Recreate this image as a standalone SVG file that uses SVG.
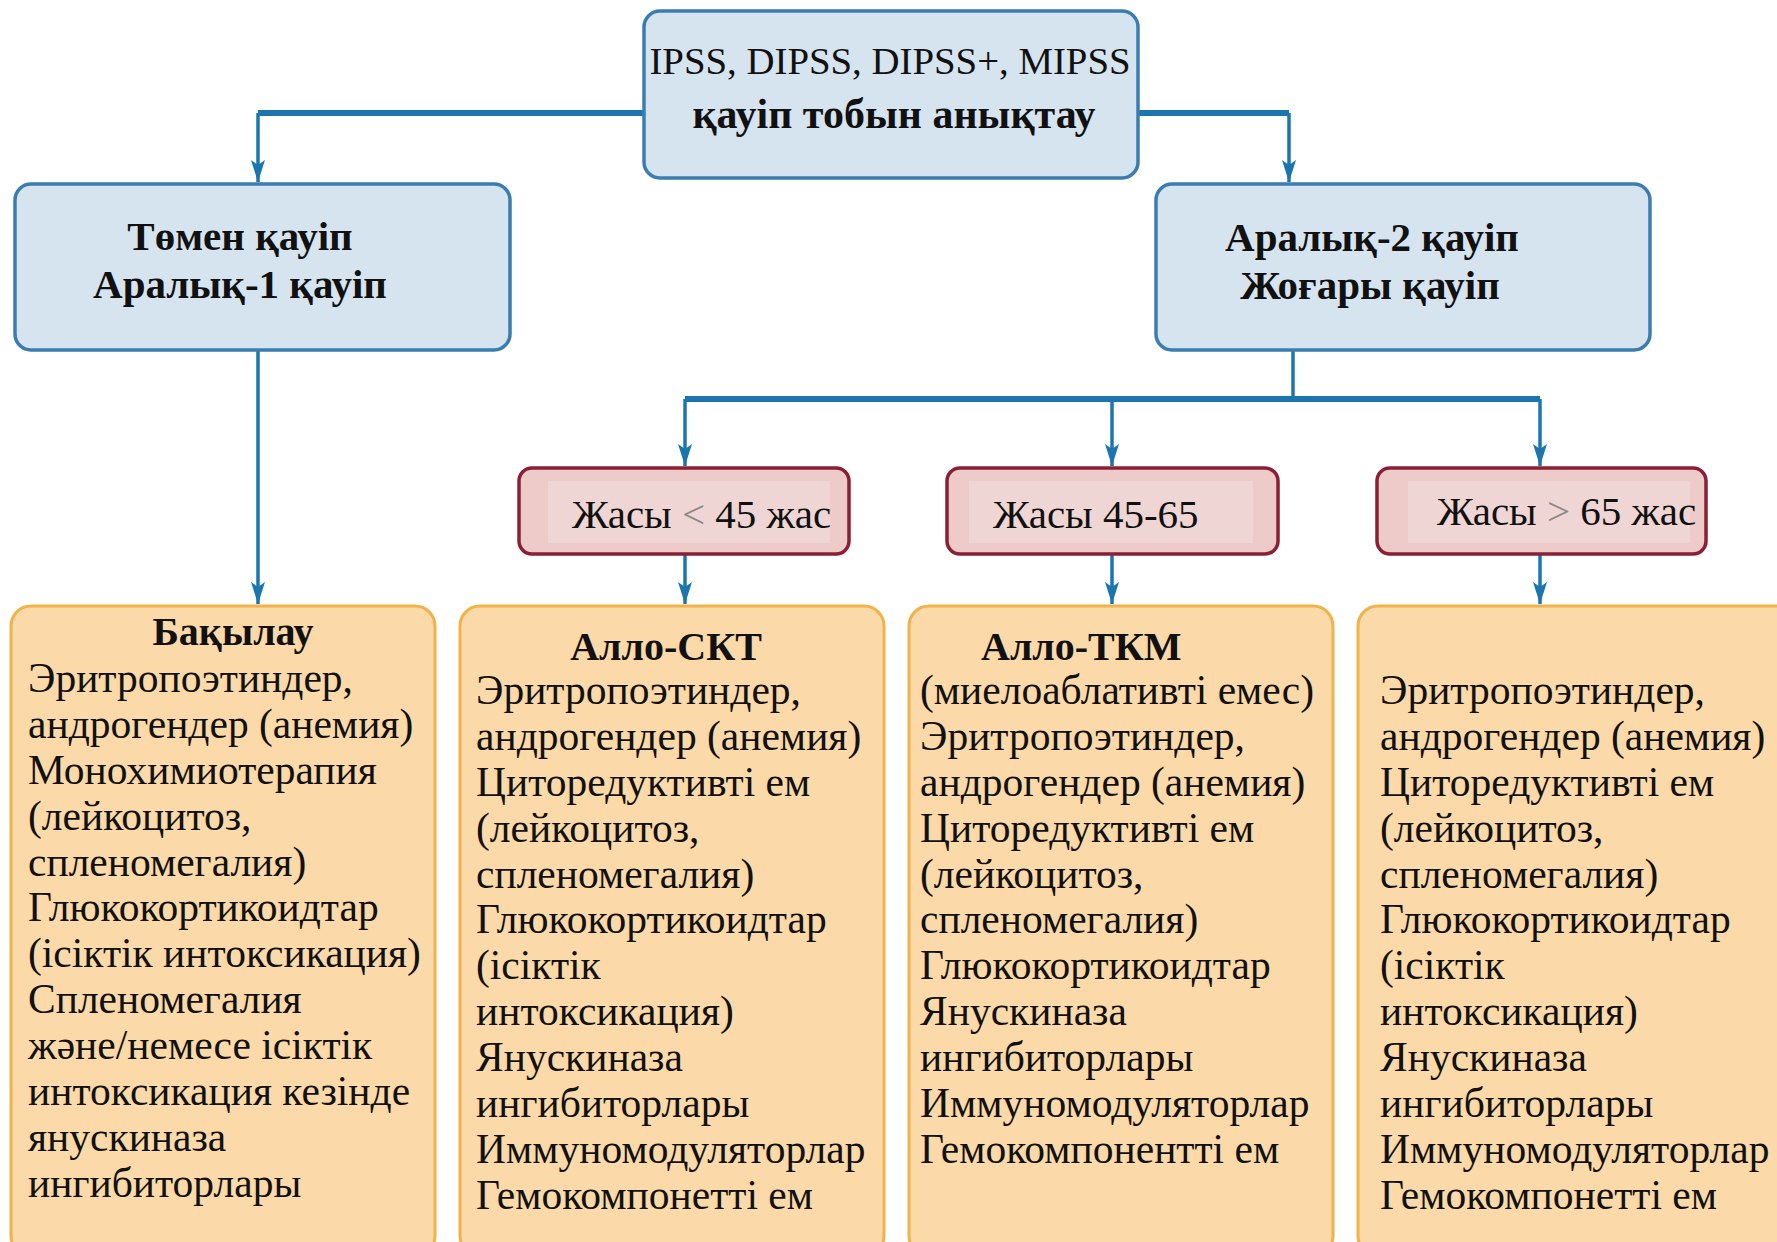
<svg xmlns="http://www.w3.org/2000/svg" width="1777" height="1242" viewBox="0 0 1777 1242">
<defs>
<style>
.blue{fill:#d6e4f0;stroke:#3b7db0;stroke-width:3.5}
.pink{fill:#eccbc9;stroke:#8a1f35;stroke-width:3.5}
.pinkin{fill:#efd6d4;stroke:none}
.orange{fill:#fcd9a8;stroke:#f0b24a;stroke-width:3}
.t{font-family:"Liberation Serif","Times New Roman",serif;fill:#111}
.hb{font-size:41px;font-weight:bold;text-anchor:middle}
.body{font-size:41.5px}
.pt{font-size:41px}
.c{fill:none;stroke:#1b76b0;stroke-linejoin:miter}
.thick{stroke-width:6}
.thin{stroke-width:3.5}
</style>
<marker id="arr" markerUnits="userSpaceOnUse" markerWidth="24" markerHeight="16" refX="22" refY="8" orient="auto">
<path d="M0,1 L22,8 L0,15 L5,8 z" fill="#1b76b0"/>
</marker>
</defs>
<rect width="1777" height="1242" fill="#ffffff"/>

<g id="connectors">
<path class="c thick" d="M644,113 H258"/>
<path class="c thin" d="M258,113 V182" marker-end="url(#arr)"/>
<path class="c thick" d="M1138,113 H1289"/>
<path class="c thin" d="M1289,113 V182" marker-end="url(#arr)"/>
<path class="c thin" d="M258,350 V604" marker-end="url(#arr)"/>
<path class="c thin" d="M1293,350 V399"/>
<path class="c thick" d="M685,399 H1540"/>
<path class="c thin" d="M685,399 V466" marker-end="url(#arr)"/>
<path class="c thin" d="M1112,399 V466" marker-end="url(#arr)"/>
<path class="c thin" d="M1540,399 V466" marker-end="url(#arr)"/>
<path class="c thin" d="M685,554 V604" marker-end="url(#arr)"/>
<path class="c thin" d="M1112,554 V604" marker-end="url(#arr)"/>
<path class="c thin" d="M1540,554 V604" marker-end="url(#arr)"/>
</g>

<g id="node-top">
<rect class="blue" x="644" y="11" width="494" height="167" rx="16"/>
<text class="t" x="890" y="74" font-size="38.8" text-anchor="middle">IPSS, DIPSS, DIPSS+, MIPSS</text>
<text class="t" x="894" y="128" font-size="42" font-weight="bold" text-anchor="middle">қауіп тобын анықтау</text>
</g>

<g id="node-low">
<rect class="blue" x="15" y="184" width="495" height="166" rx="16"/>
<text class="t hb" x="240" y="250">Төмен қауіп</text>
<text class="t hb" x="240" y="298">Аралық-1 қауіп</text>
</g>

<g id="node-high">
<rect class="blue" x="1156" y="184" width="494" height="166" rx="16"/>
<text class="t hb" x="1372" y="251">Аралық-2 қауіп</text>
<text class="t hb" x="1370" y="299">Жоғары қауіп</text>
</g>

<g id="node-age1">
<rect class="pink" x="519" y="468" width="330" height="86" rx="13"/>
<rect class="pinkin" x="548" y="481" width="282" height="62"/>
<text class="t pt" x="572" y="528">Жасы <tspan fill="#8a8a8a">&lt;</tspan> 45 жас</text>
</g>

<g id="node-age2">
<rect class="pink" x="947" y="468" width="331" height="86" rx="13"/>
<rect class="pinkin" x="969" y="481" width="284" height="62"/>
<text class="t pt" x="993" y="528">Жасы 45-65</text>
</g>

<g id="node-age3">
<rect class="pink" x="1377" y="468" width="329" height="86" rx="13"/>
<rect class="pinkin" x="1408" y="481" width="282" height="62"/>
<text class="t pt" x="1437" y="525">Жасы <tspan fill="#8a8a8a">&gt;</tspan> 65 жас</text>
</g>

<g id="node-watch">
<rect class="orange" x="11" y="606" width="424" height="650" rx="20"/>
<text class="t" x="233" y="645" font-size="40" font-weight="bold" text-anchor="middle">Бақылау</text>
<text class="t body" x="28" y="692">Эритропоэтиндер,</text>
<text class="t body" x="28" y="738">андрогендер (анемия)</text>
<text class="t body" x="28" y="784">Монохимиотерапия</text>
<text class="t body" x="28" y="830">(лейкоцитоз,</text>
<text class="t body" x="28" y="876">спленомегалия)</text>
<text class="t body" x="28" y="921">Глюкокортикоидтар</text>
<text class="t body" x="28" y="967">(ісіктік интоксикация)</text>
<text class="t body" x="28" y="1013">Спленомегалия</text>
<text class="t body" x="28" y="1059">және/немесе ісіктік</text>
<text class="t body" x="28" y="1105">интоксикация кезінде</text>
<text class="t body" x="28" y="1151">янускиназа</text>
<text class="t body" x="28" y="1197">ингибиторлары</text>
</g>

<g id="node-allo-skt">
<rect class="orange" x="460" y="606" width="424" height="650" rx="20"/>
<text class="t" x="666" y="660" font-size="40" font-weight="bold" text-anchor="middle">Алло-СКТ</text>
<text class="t body" x="476" y="704">Эритропоэтиндер,</text>
<text class="t body" x="476" y="750">андрогендер (анемия)</text>
<text class="t body" x="476" y="796">Циторедуктивті ем</text>
<text class="t body" x="476" y="842">(лейкоцитоз,</text>
<text class="t body" x="476" y="888">спленомегалия)</text>
<text class="t body" x="476" y="933">Глюкокортикоидтар</text>
<text class="t body" x="476" y="979">(ісіктік</text>
<text class="t body" x="476" y="1025">интоксикация)</text>
<text class="t body" x="476" y="1071">Янускиназа</text>
<text class="t body" x="476" y="1117">ингибиторлары</text>
<text class="t body" x="476" y="1163">Иммуномодуляторлар</text>
<text class="t body" x="476" y="1209">Гемокомпонетті ем</text>
</g>

<g id="node-allo-tkm">
<rect class="orange" x="909" y="606" width="424" height="650" rx="20"/>
<text class="t" x="981" y="660" font-size="40" font-weight="bold">Алло-ТКМ</text>
<text class="t body" x="920" y="704">(миелоаблативті емес)</text>
<text class="t body" x="920" y="750">Эритропоэтиндер,</text>
<text class="t body" x="920" y="796">андрогендер (анемия)</text>
<text class="t body" x="920" y="842">Циторедуктивті ем</text>
<text class="t body" x="920" y="888">(лейкоцитоз,</text>
<text class="t body" x="920" y="933">спленомегалия)</text>
<text class="t body" x="920" y="979">Глюкокортикоидтар</text>
<text class="t body" x="920" y="1025">Янускиназа</text>
<text class="t body" x="920" y="1071">ингибиторлары</text>
<text class="t body" x="920" y="1117">Иммуномодуляторлар</text>
<text class="t body" x="920" y="1163">Гемокомпонентті ем</text>
</g>

<g id="node-elder">
<rect class="orange" x="1358" y="606" width="440" height="650" rx="20"/>
<text class="t body" x="1380" y="704">Эритропоэтиндер,</text>
<text class="t body" x="1380" y="750">андрогендер (анемия)</text>
<text class="t body" x="1380" y="796">Циторедуктивті ем</text>
<text class="t body" x="1380" y="842">(лейкоцитоз,</text>
<text class="t body" x="1380" y="888">спленомегалия)</text>
<text class="t body" x="1380" y="933">Глюкокортикоидтар</text>
<text class="t body" x="1380" y="979">(ісіктік</text>
<text class="t body" x="1380" y="1025">интоксикация)</text>
<text class="t body" x="1380" y="1071">Янускиназа</text>
<text class="t body" x="1380" y="1117">ингибиторлары</text>
<text class="t body" x="1380" y="1163">Иммуномодуляторлар</text>
<text class="t body" x="1380" y="1209">Гемокомпонетті ем</text>
</g>
</svg>
